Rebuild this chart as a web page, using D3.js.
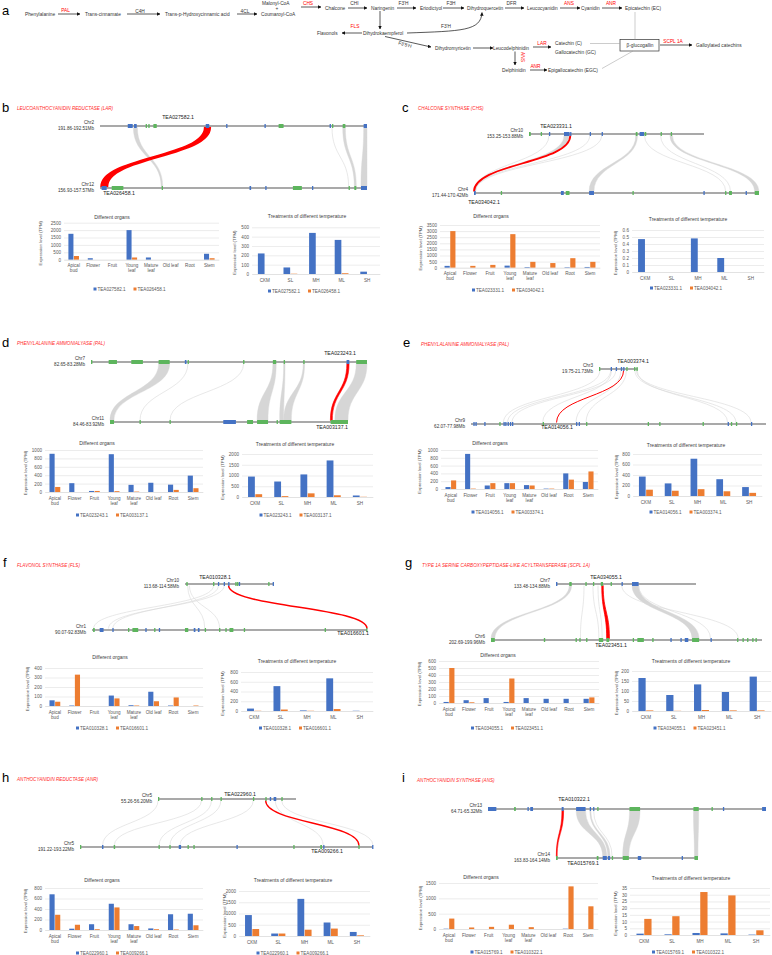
<!DOCTYPE html>
<html><head><meta charset="utf-8">
<script src="https://cdn.jsdelivr.net/npm/d3@7"></script>
<style>body{margin:0;background:#fff} svg{display:block}</style>
</head><body><svg id="fig" width="772" height="955"></svg>
<script>
// ---------------- DATA ----------------
const organCats = ["Apical bud","Flower","Fruit","Young leaf","Mature leaf","Old leaf","Root","Stem"];
const tempCats = ["CKM","SL","MH","ML","SH"];

// panel a: pathway
const pathwayNodes = ["Phenylalanine","Trans-cinnamate","Trans-p-Hydroxycinnamic acid","Malonyl-CoA","+","Coumaroyl-CoA","Chalcone","Naringenin","Eriodictyol","Dihydroquercetin","Leucocyanidin","Cyanidin","Epicatechin (EC)","Flavonols","Dihydrokaempferol","Dihydromyricetin","Leucodelphinidin","Catechin (C)","Gallocatechin (GC)","β-glucogallin","Galloylated catechins","Delphinidin","Epigallocatechin (EGC)"];
const pathwayEnzymes = ["PAL","C4H","4CL","CHS","CHI","","F3'H","F3H","DFR","ANS","ANR","FLS","F3'H","F3'5'H","","LAR","ANS","ANR","SCPL 1A"];
const keyEnzymes = ["PAL","CHS","FLS","LAR","ANS","ANR","SCPL 1A"];

// panel b
const bTitle = "LEUCOANTHOCYANIDIN REDUCTASE (LAR)";
const bGenes = ["TEA027582.1","TEA026458.1"];
const bChr = [["Chr2","191.86-192.51Mb"],["Chr12","156.93-157.57Mb"]];
const bOrgan1 = [1750,100,0,2000,150,0,0,400];
const bOrgan2 = [250,0,0,150,0,0,0,100];
const bOrganTicks = [0,500,1000,1500,2000,2500];
const bTemp1 = [220,70,440,365,25];
const bTemp2 = [0,3,0,8,0];
const bTempTicks = [0,100,200,300,400,500];
const bTopGenes = [[0.104,0.1225,"B"],[0.1275,0.1375,"B"],[0.171,0.174,"G"],[0.181,0.184,"G"],[0.2,0.2125,"G"],[0.396,0.409,"B"],[0.4725,0.475,"B"],[0.616,0.618,"B"],[0.669,0.6875,"G"],[0.86,0.863,"B"],[0.869,0.872,"G"],[0.909,0.919,"G"],[0.9875,1.0,"B"]];
const bBotGenes = [[0.006,0.025,"B"],[0.044,0.0875,"G"],[0.231,0.235,"G"],[0.56,0.566,"B"],[0.619,0.622,"B"],[0.7225,0.756,"G"],[0.794,0.797,"B"],[0.931,0.934,"G"],[0.9525,0.96,"G"],[0.9775,1.0,"B"]];
const bLinks = [[0.125,0.14,0.229,0.235,"bg"],[0.869,0.869,0.931,0.931,"bg"],[0.909,0.919,0.9525,0.96,"bg"],[0.9875,1.0,0.9775,1.0,"bg"],[0.392,0.413,0.004,0.028,"hi"]];

// panel c
const cTitle = "CHALCONE SYNTHASE (CHS)";
const cGenes = ["TEA023331.1","TEA034042.1"];
const cChr = [["Chr10","153.25-153.88Mb"],["Chr4","171.44-170.42Mb"]];
const cOrgan1 = [150,0,0,170,50,0,40,60];
const cOrgan2 = [3000,150,230,2750,480,380,780,480];
const cOrganTicks = [0,500,1000,1500,2000,2500,3000,3500];
const cTemp1 = [0.47,0,0.48,0.2,0];
const cTemp2 = [0,0,0,0,0];
const cTempTicks = [0,0.1,0.2,0.3,0.4,0.5,0.6];
const cTopGenes = [[0,0.01,"G"],[0.067,0.07,"G"],[0.114,0.117,"B"],[0.2,0.232,"B"],[0.235,0.24,"B"],[0.347,0.35,"B"],[0.415,0.418,"B"],[0.61,0.62,"G"],[0.632,0.657,"B"],[0.66,0.67,"G"],[0.752,0.756,"G"],[0.81,0.815,"G"]];
const cBotGenes = [[0,0.006,"B"],[0.094,0.098,"G"],[0.305,0.315,"B"],[0.322,0.335,"G"],[0.404,0.421,"B"],[0.556,0.56,"G"],[0.805,0.808,"B"],[0.881,0.885,"G"],[0.895,0.905,"G"],[0.953,0.955,"B"],[0.985,1.0,"G"]];
const cLinks = [[0.114,0.114,0.002,0.002,"bg"],[0.2,0.228,0.0,0.006,"bg"],[0.347,0.347,0.004,0.004,"bg"],[0.415,0.415,0.005,0.005,"bg"],[0.61,0.62,0.404,0.421,"bg"],[0.66,0.66,0.883,0.883,"bg"],[0.752,0.752,0.9,0.9,"bg"],[0.805,0.82,0.985,1.0,"bg"],[0.236,0.236,0.0,0.0,"hi"]];

// panel d
const dTitle = "PHENYLALANINE AMMONIALYASE (PAL)";
const dGenes = ["TEA023243.1","TEA003137.1"];
const dChr = [["Chr7","82.65-83.28Mb"],["Chr11","84.46-83.92Mb"]];
const dOrgan1 = [910,210,25,900,170,220,175,390];
const dOrgan2 = [120,0,25,20,10,0,50,90];
const dOrganTicks = [0,200,400,600,800,1000];
const dTemp1 = [950,720,1050,1700,70];
const dTemp2 = [130,40,170,80,10];
const dTempTicks = [0,500,1000,1500,2000];
const dTopGenes = [[0,0.005,"G"],[0.064,0.094,"G"],[0.146,0.188,"G"],[0.245,0.285,"G"],[0.34,0.346,"B"],[0.35,0.354,"G"],[0.551,0.556,"G"],[0.659,0.671,"G"],[0.698,0.703,"G"],[0.769,0.774,"G"],[0.926,0.936,"B"],[0.961,1.0,"G"]];
const dBotGenes = [[0,0.017,"G"],[0.124,0.129,"G"],[0.25,0.255,"G"],[0.476,0.529,"B"],[0.576,0.601,"G"],[0.618,0.664,"G"],[0.7,0.704,"G"],[0.713,0.762,"G"],[0.927,1.0,"G"]];
const dLinks = [[0.245,0.285,0,0.017,"bg"],[0.351,0.351,0.126,0.126,"bg"],[0.553,0.553,0.252,0.252,"bg"],[0.659,0.671,0.618,0.664,"bg"],[0.698,0.703,0.713,0.73,"bg"],[0.769,0.774,0.73,0.762,"bg"],[0.961,1.0,0.945,1.0,"bg"],[0.927,0.935,0.926,0.934,"hi"]];

// panel e
const eTitle = "PHENYLALANINE AMMONIALYASE (PAL)";
const eGenes = ["TEA014056.1","TEA003374.1"];
const eChr = [["Chr3","19.75-21.73Mb"],["Chr9","62.07-77.98Mb"]];
const eOrgan1 = [50,900,90,150,100,10,400,180];
const eOrgan2 = [220,10,150,150,90,10,240,450];
const eOrganTicks = [0,200,400,600,800,1000];
const eTemp1 = [370,240,710,320,170];
const eTemp2 = [120,100,130,90,60];
const eTempTicks = [0,200,400,600,800];
const eTopGenes = [[0,0.02,"G"],[0.3,0.32,"B"],[0.43,0.45,"B"],[0.56,0.58,"B"],[0.62,0.64,"B"],[0.7,0.72,"G"],[0.9,0.92,"G"],[0.96,0.98,"G"]];
const eBotGenes = [[0.008,0.01,"B"],[0.015,0.017,"B"],[0.045,0.047,"B"],[0.096,0.098,"G"],[0.11,0.112,"B"],[0.116,0.118,"B"],[0.124,0.126,"B"],[0.132,0.134,"B"],[0.139,0.141,"B"],[0.243,0.245,"G"],[0.356,0.358,"B"],[0.365,0.367,"B"],[0.39,0.392,"G"],[0.599,0.601,"G"],[0.638,0.64,"G"],[0.785,0.787,"G"],[0.87,0.872,"B"],[0.881,0.883,"G"],[0.898,0.9,"G"],[0.949,0.951,"B"]];
const eLinks = [[0.02,0.02,0.11,0.11,"bg"],[0.3,0.3,0.124,0.124,"bg"],[0.43,0.43,0.139,0.139,"bg"],[0.32,0.32,0.243,0.243,"bg"],[0.56,0.56,0.356,0.356,"bg"],[0.7,0.7,0.39,0.39,"bg"],[0.96,0.96,0.949,0.949,"bg"],[0.92,0.92,0.898,0.898,"bg"],[0.98,0.98,0.87,0.87,"bg"],[0.63,0.63,0.29,0.29,"hi"]];

// panel f
const fTitle = "FLAVONOL SYNTHASE (FLS)";
const fGenes = ["TEA010328.1","TEA016601.1"];
const fChr = [["Chr10","113.68-114.58Mb"],["Chr1","90.07-92.83Mb"]];
const fOrgan1 = [60,5,0,110,8,150,5,0];
const fOrgan2 = [45,330,0,80,5,50,90,5];
const fOrganTicks = [0,100,200,300,400];
const fTemp1 = [50,510,12,670,5];
const fTemp2 = [5,30,5,40,0];
const fTempTicks = [0,200,400,600,800];
const fTopGenes = [[0.015,0.03,"G"],[0.315,0.33,"G"],[0.37,0.38,"B"],[0.435,0.445,"B"],[0.485,0.495,"B"],[0.565,0.58,"G"],[0.585,0.6,"G"],[0.605,0.615,"B"],[0.935,0.945,"G"],[0.985,0.995,"B"]];
const fBotGenes = [[0.004,0.01,"G"],[0.028,0.042,"B"],[0.074,0.078,"B"],[0.131,0.135,"G"],[0.147,0.168,"G"],[0.194,0.198,"B"],[0.226,0.23,"G"],[0.243,0.247,"B"],[0.338,0.35,"G"],[0.37,0.376,"B"],[0.385,0.391,"B"],[0.41,0.414,"G"],[0.462,0.466,"G"],[0.485,0.489,"G"],[0.5,0.514,"G"],[0.552,0.556,"G"],[0.846,0.85,"G"],[0.997,1.0,"G"]];
const fLinks = [[0.32,0.32,0.006,0.006,"bg"],[0.375,0.375,0.076,0.076,"bg"],[0.03,0.03,0.41,0.41,"bg"],[0.05,0.05,0.464,0.464,"bg"],[0.44,0.44,0.06,0.06,"bg"],[0.49,0.49,1.0,1.0,"hi"]];

// panel g
const gTitle = "TYPE 1A SERINE CARBOXYPEPTIDASE-LIKE ACYLTRANSFERASE (SCPL 1A)";
const gGenes = ["TEA034055.1","TEA023451.1"];
const gChr = [["Chr7","133.48-134.88Mb"],["Chr6","202.69-199.96Mb"]];
const gOrgan1 = [15,40,70,15,70,60,60,60];
const gOrgan2 = [500,10,0,350,0,0,0,80];
const gOrganTicks = [0,100,200,300,400,500,600];
const gTemp1 = [165,80,133,95,172];
const gTemp2 = [3,1,5,3,3];
const gTempTicks = [0,50,100,150,200];
const gTopGenes = [[0,0.01,"B"],[0.095,0.112,"G"],[0.21,0.218,"G"],[0.264,0.27,"G"],[0.32,0.336,"G"],[0.39,0.396,"G"],[0.468,0.474,"B"],[0.543,0.59,"B"]];
const gBotGenes = [[0,0.014,"G"],[0.195,0.2,"G"],[0.312,0.316,"G"],[0.326,0.33,"G"],[0.351,0.355,"G"],[0.398,0.414,"G"],[0.426,0.436,"G"],[0.523,0.527,"G"],[0.54,0.564,"G"],[0.595,0.6,"G"],[0.662,0.666,"B"],[0.699,0.703,"B"],[0.715,0.728,"B"],[0.742,0.768,"G"],[0.81,0.814,"B"],[0.908,0.912,"G"],[0.928,0.932,"G"],[0.945,0.949,"G"],[0.964,0.968,"G"],[0.976,0.98,"G"]];
const gLinks = [[0.095,0.112,0,0.014,"bg"],[0.543,0.59,0.742,0.768,"bg"],[0.59,0.59,0.81,0.81,"bg"],[0.264,0.264,0.398,0.398,"bg"],[0.3,0.3,0.41,0.41,"bg"],[0.2,0.2,0.33,0.33,"bg"],[0.47,0.47,0.912,0.912,"bg"],[0.327,0.337,0.427,0.437,"hi"]];

// panel h
const hTitle = "ANTHOCYANIDIN REDUCTASE (ANR)";
const hGenes = ["TEA022960.1","TEA009266.1"];
const hChr = [["Chr5","55.26-56.20Mb"],["Chr5","191.22-193.22Mb"]];
const hOrgan1 = [680,25,110,500,110,30,300,310];
const hOrgan2 = [290,100,15,430,75,15,10,90];
const hOrganTicks = [0,200,400,600,800];
const hTemp1 = [930,110,1650,600,180];
const hTemp2 = [310,110,280,330,30];
const hTempTicks = [0,500,1000,1500,2000];
const hTopGenes = [[0,0.005,"G"],[0.313,0.318,"G"],[0.385,0.39,"G"],[0.453,0.458,"G"],[0.688,0.693,"G"],[0.778,0.783,"G"],[0.81,0.82,"B"],[0.838,0.857,"B"],[0.894,0.899,"G"]];
const hBotGenes = [[0,0.004,"G"],[0.075,0.08,"B"],[0.115,0.12,"G"],[0.268,0.272,"G"],[0.305,0.309,"G"],[0.337,0.345,"B"],[0.367,0.371,"G"],[0.387,0.391,"G"],[0.534,0.538,"B"],[0.728,0.732,"G"],[0.82,0.826,"G"],[0.83,0.834,"B"],[0.95,0.954,"G"],[0.997,1.0,"B"]];
const hLinks = [[0.0,0.0,0.077,0.077,"bg"],[0.315,0.315,0.117,0.117,"bg"],[0.387,0.387,0.27,0.27,"bg"],[0.455,0.455,0.307,0.307,"bg"],[0.69,0.69,0.341,0.341,"bg"],[0.896,0.896,1.0,1.0,"bg"],[0.85,0.85,0.83,0.83,"bg"],[0.78,0.78,0.952,0.952,"hi"]];

// panel i
const iTitle = "ANTHOCYANIDIN SYNTHASE (ANS)";
const iGenes = ["TEA015769.1","TEA010322.1"];
const iChr = [["Chr13","64.71-65.32Mb"],["Chr14","163.83-164.14Mb"]];
const iOrgan1 = [10,0,0,0,0,0,10,0];
const iOrgan2 = [340,50,70,140,60,0,1390,740];
const iOrganTicks = [0,500,1000,1500];
const iTemp1 = [1,0.5,1.5,1.2,0.3];
const iTemp2 = [12,14,32,29.5,3.5];
const iTempTicks = [0,5,10,15,20,25,30,35];
const iTopGenes = [[0,0.03,"B"],[0.094,0.1,"G"],[0.142,0.146,"B"],[0.152,0.162,"B"],[0.265,0.272,"B"],[0.317,0.351,"B"],[0.366,0.37,"B"],[0.378,0.382,"B"],[0.393,0.397,"G"],[0.509,0.547,"G"],[0.739,0.758,"G"],[0.804,0.808,"G"],[0.845,0.849,"B"],[0.986,1.0,"B"]];
const iBotGenes = [[0,0.012,"G"],[0.287,0.299,"G"],[0.329,0.358,"B"],[0.365,0.381,"B"],[0.393,0.397,"G"],[0.47,0.513,"G"],[0.576,0.6,"B"],[0.885,0.889,"B"],[0.975,1.0,"G"]];
const iLinks = [[0.317,0.351,0.329,0.358,"bg"],[0.366,0.37,0.365,0.381,"bg"],[0.38,0.38,0.395,0.395,"bg"],[0.509,0.547,0.47,0.513,"bg"],[0.739,0.758,0.975,1.0,"bg"],[0.266,0.272,0.002,0.008,"hi"]];

// ---------------- DRAWING ----------------
const FONT = '"Liberation Sans", Arial, sans-serif';
const BLUE = "#4472C4", ORANGE = "#ED7D31", GREEN = "#5DB55D", RED = "#FF0000";
const svg = d3.select("#fig").attr("font-family", FONT);
svg.append("rect").attr("width",772).attr("height",955).attr("fill","#fff");

svg.append("defs").append("marker").attr("id","ah").attr("viewBox","0 0 10 10")
  .attr("refX",9).attr("refY",5).attr("markerWidth",3.6).attr("markerHeight",3.6)
  .attr("markerUnits","userSpaceOnUse").attr("orient","auto")
  .append("path").attr("d","M0,0 L10,5 L0,10 z").attr("fill","#111");

function txt(x,y,s,o={}) {
  const t = svg.append("text").attr("x",x).attr("y",y).attr("dy","0.35em").text(s)
    .attr("font-size",o.size||4.8).attr("fill",o.fill||"#333")
    .attr("text-anchor",o.anchor||"start");
  if (o.italic) t.attr("font-style","italic");
  if (o.rot) t.attr("transform",`rotate(${o.rot},${x},${y})`);
  return t;
}

// ---- panel a ----
svg.append("text").attr("x",2).attr("y",15).text("a").attr("font-size",13).attr("fill","#000");
const NODE_XY = [[25,14],[85,14],[165,14],[262,3.5],[277,8.5],[261,14],[325,8],[371,8],[420,8],[467,8],[527,8],[581,8],[625,8],[317,33],[363,33],[435,48],[493,48],[555,43],[555,52],[640,45.5],[696,45],[502,70],[548,70]];
pathwayNodes.forEach((n,i)=> txt(NODE_XY[i][0],NODE_XY[i][1],n,{anchor: (n==="+"||n==="β-glucogallin")?"middle":"start"}));
svg.append("rect").attr("x",620).attr("y",39.5).attr("width",39).attr("height",11.5).attr("fill","none").attr("stroke","#333").attr("stroke-width",0.7);
// step geometry: [x1,y1,x2,y2,labelX,labelY,rot]
const STEP_GEOM = [[58,14,80,14,65.5,10],[127,14,160,14,140,11],[237,14,257,14,245,11],[301,7,321,7,308,3.3],[348,8,367,8,354.5,3.3],[380,11,380,29],[397,8,416,8,403.5,3],[443,8,464,8,451,3],[505,8,524,8,511.5,3],[560,8,580,8,569,3],[602,8,622,8,611,3],[362,33,342,33,355,26.5],null,[385,36.5,431,47,405,44.5,16],[473,48,493,48],[533,47,551,47,542,43],[515,51.5,515,65,523,57,90],[530,70,547,70,535.5,66],[660,45,692,45,673,41]];
pathwayEnzymes.forEach((e,i)=>{
  const g = STEP_GEOM[i];
  const col = keyEnzymes.includes(e) ? RED : "#333";
  if (g) {
    svg.append("line").attr("x1",g[0]).attr("y1",g[1]).attr("x2",g[2]).attr("y2",g[3])
      .attr("stroke","#111").attr("stroke-width",0.7).attr("marker-end","url(#ah)");
    if (e) txt(g[4],g[5],e,{anchor:"middle",fill:col,rot:g[6]});
  } else {
    svg.append("path").attr("d","M407,33 C462,31 481,31 482,12.5").attr("fill","none")
      .attr("stroke","#111").attr("stroke-width",0.7).attr("marker-end","url(#ah)");
    txt(446,26,e,{anchor:"middle",fill:col});
  }
});
[[635,12,635,39.5],[590,43.5,620,43.5],[602,68.5,633,51]].forEach(l=>
  svg.append("line").attr("x1",l[0]).attr("y1",l[1]).attr("x2",l[2]).attr("y2",l[3]).attr("stroke","#999").attr("stroke-width",0.5));

// ---- helpers ----
function panelHead(letter, lx, ly, title, tx, ty) {
  svg.append("text").attr("x",lx).attr("y",ly).text(letter).attr("font-size",13).attr("fill","#000");
  svg.append("text").attr("x",tx).attr("y",ty).text(title).attr("font-size",4.6).attr("fill","#FF2A2A").attr("font-style","italic");
}

function synteny(o) {
  const g = svg.append("g");
  const xt = d3.scaleLinear().domain([0,1]).range([o.top.x0,o.top.x1]);
  const xb = d3.scaleLinear().domain([0,1]).range([o.bot.x0,o.bot.x1]);
  const yt = o.top.y + 1.5, yb = o.bot.y - 1.5, ym = (yt+yb)/2;
  const lk = o.links.slice().sort((a,b)=> (a[4]==="hi") - (b[4]==="hi"));
  lk.forEach(([ts,te,bs,be,k])=>{
    const hi = k==="hi";
    const ribbon = (xt(te)-xt(ts) > 0.6) || (xb(be)-xb(bs) > 0.6);
    if (ribbon) {
      const p = `M${xt(ts)},${yt} C${xt(ts)},${ym} ${xb(bs)},${ym} ${xb(bs)},${yb} L${xb(be)},${yb} C${xb(be)},${ym} ${xt(te)},${ym} ${xt(te)},${yt} Z`;
      g.append("path").attr("d",p).attr("fill",hi?RED:"#d6d6d6").attr("stroke",hi?RED:"#d6d6d6").attr("stroke-width",hi?(o.hiStroke||1.6):0.4);
    } else {
      const p = `M${xt(ts)},${yt} C${xt(ts)},${ym} ${xb(bs)},${ym} ${xb(bs)},${yb}`;
      g.append("path").attr("d",p).attr("fill","none").attr("stroke",hi?RED:"#d8d8d8").attr("stroke-width",hi?(o.redW||1.3):0.6);
    }
  });
  [[o.top,xt,o.topGenes],[o.bot,xb,o.botGenes]].forEach(([c,sx,genes])=>{
    g.append("line").attr("x1",c.x0).attr("x2",c.x1).attr("y1",c.y).attr("y2",c.y).attr("stroke","#8c8c8c").attr("stroke-width",1.5);
    g.selectAll(null).data(genes).join("rect")
      .attr("x",d=>sx(d[0])).attr("width",d=>Math.max(1.3,sx(d[1])-sx(d[0])))
      .attr("y",c.y-2).attr("height",4).attr("fill",d=>d[2]==="B"?BLUE:GREEN);
    txt(c.x0-6,c.y-3.3,c.chr[0],{anchor:"end",size:4.6});
    txt(c.x0-6,c.y+2.6,c.chr[1],{anchor:"end",size:4.6});
  });
  txt(o.topId[0],o.topId[1],o.ids[0],{anchor:"middle",size:5.2,fill:"#222"});
  txt(o.botId[0],o.botId[1],o.ids[1],{anchor:"middle",size:5.2,fill:"#222"});
}

function barChart(o) {
  const g = svg.append("g");
  const x = d3.scaleBand().domain(o.cats).range([o.x0,o.x1]);
  const y = d3.scaleLinear().domain([0,o.ticks[o.ticks.length-1]]).range([o.yB,o.yT]);
  const ax = g.append("g").attr("transform",`translate(${o.x0},0)`)
    .call(d3.axisLeft(y).tickValues(o.ticks).tickSize(-(o.x1-o.x0)).tickPadding(3).tickFormat(d=>String(d)));
  ax.select(".domain").remove();
  ax.selectAll("line").attr("stroke","#d9d9d9").attr("stroke-width",0.5);
  ax.selectAll("text").attr("font-size",4.6).attr("fill","#595959").attr("font-family",FONT);
  const bw = x.bandwidth()*0.26;
  [[o.s1,BLUE,-bw-0.25],[o.s2,ORANGE,0.25]].forEach(([vals,col,off])=>{
    g.append("g").selectAll("rect").data(o.cats.map((c,i)=>({c,v:vals[i]}))).join("rect")
      .attr("x",d=>x(d.c)+x.bandwidth()/2+off).attr("width",bw)
      .attr("y",d=>y(d.v)).attr("height",d=>y(0)-y(d.v)).attr("fill",col);
  });
  const xa = g.append("g").attr("transform",`translate(0,${o.yB})`).call(d3.axisBottom(x).tickSize(0));
  xa.select(".domain").attr("stroke","#d9d9d9").attr("stroke-width",0.5);
  xa.selectAll("text").each(function(d){
    const t = d3.select(this).text(null).attr("y",6).attr("dy","0.35em").attr("font-size",4.6).attr("fill","#595959").attr("font-family",FONT);
    const parts = d.length>8 ? d.split(" ") : [d];
    parts.forEach((p,i)=> t.append("tspan").attr("x",0).attr("dy", i===0? "0.35em" : "5").text(p));
  });
  txt(o.titleX,o.titleY,o.title,{anchor:"middle",size:5,fill:"#404040"});
  txt(o.ytX,(o.yT+o.yB)/2+2,"Expression level (TPM)",{anchor:"middle",size:4.3,fill:"#595959",rot:-90});
  const lc = (o.x0+o.x1)/2 - 10;
  o.names.forEach((n,i)=>{
    const lx = lc - 38 + i*40;
    g.append("rect").attr("x",lx).attr("y",o.legY-1.5).attr("width",3).attr("height",3).attr("fill",i?ORANGE:BLUE);
    txt(lx+4,o.legY,n,{size:4.6,fill:"#595959"});
  });
}

const OT = "Different organs", TT = "Treatments of different temperature";

// ---- panel b ----
panelHead("b",2,112,bTitle,17,110);
synteny({top:{x0:100,x1:367,y:126,chr:bChr[0]},bot:{x0:100,x1:367,y:188,chr:bChr[1]},topGenes:bTopGenes,botGenes:bBotGenes,links:bLinks,ids:bGenes,topId:[178,117.5],botId:[119,193.5]});
barChart({cats:organCats,s1:bOrgan1,s2:bOrgan2,ticks:bOrganTicks,names:bGenes,x0:64,x1:219,yT:222.7,yB:259.7,title:OT,titleX:112,titleY:217,ytX:40,legY:289});
barChart({cats:tempCats,s1:bTemp1,s2:bTemp2,ticks:bTempTicks,names:bGenes,x0:252,x1:380,yT:227.3,yB:274,title:TT,titleX:307,titleY:216.7,ytX:235,legY:291});

// ---- panel c ----
panelHead("c",402,112,cTitle,418,110);
synteny({top:{x0:529,x1:704,y:134,chr:cChr[0]},bot:{x0:474,x1:759,y:193,chr:cChr[1]},topGenes:cTopGenes,botGenes:cBotGenes,links:cLinks,ids:cGenes,topId:[556,126],botId:[484,202],redW:1.8});
barChart({cats:organCats,s1:cOrgan1,s2:cOrgan2,ticks:cOrganTicks,names:cGenes,x0:440,x1:600,yT:225,yB:267.7,title:OT,titleX:491,titleY:216.7,ytX:421,legY:290});
barChart({cats:tempCats,s1:cTemp1,s2:cTemp2,ticks:cTempTicks,names:cGenes,x0:632,x1:764,yT:230,yB:272,title:TT,titleX:688,titleY:219,ytX:615,legY:288});

// ---- panel d ----
panelHead("d",2,347,dTitle,17,345);
synteny({top:{x0:91,x1:367,y:362,chr:dChr[0]},bot:{x0:110,x1:348,y:422,chr:dChr[1]},topGenes:dTopGenes,botGenes:dBotGenes,links:dLinks,ids:dGenes,topId:[340,353],botId:[332,427.5],hiStroke:0.6});
barChart({cats:organCats,s1:dOrgan1,s2:dOrgan2,ticks:dOrganTicks,names:dGenes,x0:45,x1:203,yT:450,yB:492,title:OT,titleX:97,titleY:443,ytX:25,legY:515});
barChart({cats:tempCats,s1:dTemp1,s2:dTemp2,ticks:dTempTicks,names:dGenes,x0:242,x1:373,yT:454,yB:497,title:TT,titleX:295,titleY:444,ytX:222,legY:515});

// ---- panel e ----
panelHead("e",403,347,eTitle,421,346);
synteny({top:{x0:599,x1:638,y:369,chr:eChr[0]},bot:{x0:471,x1:766,y:424,chr:eChr[1]},topGenes:eTopGenes,botGenes:eBotGenes,links:eLinks,ids:[eGenes[1],eGenes[0]],topId:[633,361],botId:[557,427.5],redW:1.0});
barChart({cats:organCats,s1:eOrgan1,s2:eOrgan2,ticks:eOrganTicks,names:eGenes,x0:441,x1:598,yT:450,yB:489,title:OT,titleX:490,titleY:443,ytX:419,legY:512});
barChart({cats:tempCats,s1:eTemp1,s2:eTemp2,ticks:eTempTicks,names:eGenes,x0:633,x1:762,yT:454,yB:496,title:TT,titleX:686,titleY:445,ytX:616,legY:512});

// ---- panel f ----
panelHead("f",3,567,fTitle,17,567);
synteny({top:{x0:185,x1:274,y:584,chr:fChr[0]},bot:{x0:92,x1:367,y:630,chr:fChr[1]},topGenes:fTopGenes,botGenes:fBotGenes,links:fLinks,ids:fGenes,topId:[215,577],botId:[353,633.5],redW:1.5});
barChart({cats:organCats,s1:fOrgan1,s2:fOrgan2,ticks:fOrganTicks,names:fGenes,x0:45,x1:203,yT:668,yB:706,title:OT,titleX:110,titleY:657,ytX:27,legY:728});
barChart({cats:tempCats,s1:fTemp1,s2:fTemp2,ticks:fTempTicks,names:fGenes,x0:241,x1:373,yT:672,yB:711,title:TT,titleX:297,titleY:661,ytX:222,legY:728});

// ---- panel g ----
panelHead("g",405,567,gTitle,422,567);
synteny({top:{x0:556,x1:696,y:584,chr:gChr[0]},bot:{x0:491,x1:762,y:640,chr:gChr[1]},topGenes:gTopGenes,botGenes:gBotGenes,links:gLinks,ids:gGenes,topId:[606,577],botId:[611,645.5],hiStroke:0.8});
barChart({cats:organCats,s1:gOrgan1,s2:gOrgan2,ticks:gOrganTicks,names:gGenes,x0:439,x1:599,yT:661,yB:703,title:OT,titleX:498,titleY:655,ytX:419,legY:728});
barChart({cats:tempCats,s1:gTemp1,s2:gTemp2,ticks:gTempTicks,names:gGenes,x0:632,x1:771,yT:671,yB:711,title:TT,titleX:691,titleY:661,ytX:616,legY:728});

// ---- panel h ----
panelHead("h",2,782,hTitle,17,781);
synteny({top:{x0:158,x1:296,y:799,chr:hChr[0]},bot:{x0:80,x1:373,y:847,chr:hChr[1]},topGenes:hTopGenes,botGenes:hBotGenes,links:hLinks,ids:hGenes,topId:[240,794],botId:[327,851.5],redW:1.3});
barChart({cats:organCats,s1:hOrgan1,s2:hOrgan2,ticks:hOrganTicks,names:hGenes,x0:45,x1:203,yT:888,yB:930,title:OT,titleX:102,titleY:880,ytX:25,legY:953});
barChart({cats:tempCats,s1:hTemp1,s2:hTemp2,ticks:hTempTicks,names:hGenes,x0:239,x1:370,yT:891,yB:936,title:TT,titleX:293,titleY:880,ytX:224,legY:953});

// ---- panel i ----
panelHead("i",402,782,iTitle,417,782);
synteny({top:{x0:488,x1:766,y:809,chr:iChr[0]},bot:{x0:556,x1:698,y:858,chr:iChr[1]},topGenes:iTopGenes,botGenes:iBotGenes,links:iLinks,ids:[iGenes[1],iGenes[0]],topId:[574,799],botId:[583,863.5],hiStroke:0.6});
barChart({cats:organCats,s1:iOrgan1,s2:iOrgan2,ticks:iOrganTicks,names:iGenes,x0:439,x1:598,yT:883,yB:929,title:OT,titleX:481,titleY:877,ytX:420,legY:952});
barChart({cats:tempCats,s1:iTemp1,s2:iTemp2,ticks:iTempTicks,names:iGenes,x0:630,x1:770,yT:888,yB:935,title:TT,titleX:691,titleY:878,ytX:615,legY:952});
</script></body></html>
